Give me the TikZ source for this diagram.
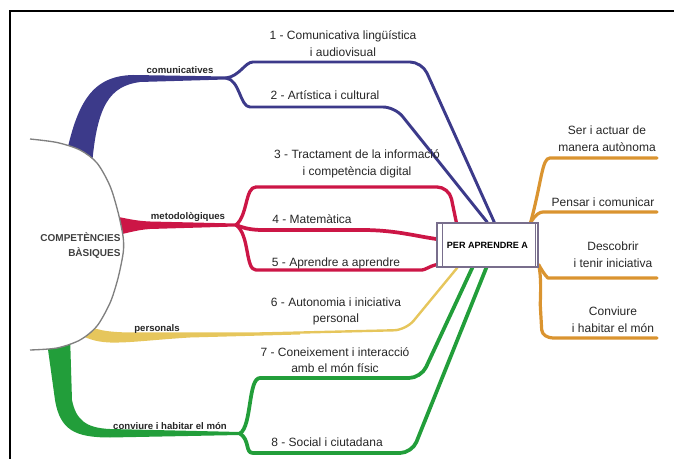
\documentclass[tikz,border=0pt]{standalone}
\usepackage{fontspec}
\setmainfont{Liberation Sans}
\usetikzlibrary{calc}

\definecolor{comblue}{RGB}{60,58,138}
\definecolor{metred}{RGB}{204,22,70}
\definecolor{peryellow}{RGB}{230,198,92}
\definecolor{convgreen}{RGB}{34,158,58}
\definecolor{aprorange}{RGB}{218,148,48}
\definecolor{boxedge}{RGB}{120,110,140}

\tikzset{every picture/.style={line width=0.75pt}}

\begin{document}
\begin{tikzpicture}[x=0.75pt,y=0.75pt,yscale=-1,xscale=1,
  lbl/.style={font=\fontsize{9}{12.5}\selectfont, align=center, inner sep=0pt, text=black!85},
  tag/.style={font=\fontsize{7.2}{8}\selectfont\bfseries, inner sep=0pt, text=black!85},
  twig/.style={line width=2.2pt, line cap=round, line join=round, rounded corners=9pt},
]
\useasboundingbox (0,0) rectangle (674,459);

%Straight Lines: frame
\draw[line width=1.5pt] (10,459) -- (10,11) -- (674,11);

% Split points and ends on the box
\coordinate (comSplit) at (226,78);
\coordinate (metSplit) at (236,225);
\coordinate (convSplit) at (240,433.5);

%Shape: thick branches
\fill[comblue] (64,165) .. controls (76,105) and (90,76) .. (133,75) -- (226,76.5) -- (226,79.5) -- (140,82) .. controls (110,86) and (97,105) .. (92,165) -- cycle;
\fill[metred] (108,215) .. controls (125,218) and (135,221) .. (150,221.5) -- (236,223.5) -- (236,226.5) -- (150,229) .. controls (135,230) and (125,234) .. (108,237) -- cycle;
\fill[peryellow] (80,322) .. controls (95,330) and (105,332) .. (130,332.5) -- (300,332.5) -- (300,334.5) -- (190,337.5) .. controls (150,340) and (130,343) .. (110,342.5) .. controls (95,342) and (85,338) .. (75,332) -- cycle;
\fill[convgreen] (46,335) -- (55,400) .. controls (60,430) and (75,437.5) .. (110,437.5) -- (240,435) -- (240,432) -- (110,429) .. controls (86,428) and (76,420) .. (72,400) -- (70,335) -- cycle;

%Shape: Circle
\fill[white] plot[smooth] coordinates {(30,139) (57,142.5) (80,150) (97,163) (110,186) (118,212) (123,236) (123.5,250) (121,265) (117,282) (110,303) (97,326) (80,340) (57,348) (30,350)} -- cycle;
\draw[gray, line width=1pt] plot[smooth] coordinates {(30,139) (57,142.5) (80,150) (97,163) (110,186) (118,212) (123,236) (123.5,250) (121,265) (117,282) (110,303) (97,326) (80,340) (57,348) (30,350)};

% Text Node
\node[font=\fontsize{7.5}{11.25}\selectfont\bfseries, align=right, text=black!75, anchor=east, inner sep=0pt] (core) at (121,245.5) {COMPETÈNCIES\\BÀSIQUES};

%Shape: Rectangle
\node[draw=boxedge, fill=white, line width=1pt, minimum width=75.75pt, minimum height=33pt, inner sep=0pt, font=\fontsize{6.8}{8}\selectfont\bfseries] (box) at (487.5,245) {PER APRENDRE A};

\coordinate (b1) at ($(box.north west)+(58,0)$);
\coordinate (b2) at ($(box.north west)+(51,0)$);
\coordinate (r3) at ($(box.north west)+(20,0)$);
\coordinate (r4) at ($(box.west)+(0,-6)$);
\coordinate (r5) at ($(box.south west)+(0,-3)$);
\coordinate (y6) at ($(box.south west)+(21,0)$);
\coordinate (g7) at ($(box.south west)+(36,0)$);
\coordinate (g8) at ($(box.south west)+(50,0)$);
\coordinate (oTop) at ($(box.north east)+(-8,0)$);
\coordinate (oBot) at ($(box.south east)+(0,-3)$);

%Curve Lines: comunicatives
\draw[twig, comblue] (comSplit) .. controls (240,76) and (245,62) .. (265,62) -- (422,62) -- (b1);
\draw[twig, comblue] (comSplit) .. controls (240,80) and (240,107) .. (262,107) -- (395,107) -- (b2);
%Curve Lines: metodologiques
\draw[twig, metred, line width=2.5pt] (metSplit) .. controls (248,215) and (245,187) .. (268,187) -- (449,187) -- (r3);
\draw[twig, metred, line width=2.8pt] (metSplit) .. controls (250,231) and (262,230) .. (285,230) -- (350,230) .. controls (395,230) and (415,236) .. (r4);
\draw[twig, metred, line width=2.5pt] (metSplit) .. controls (250,235) and (245,270) .. (268,270) -- (410,270) .. controls (425,270) and (430,266) .. (r5);
%Curve Lines: personals
\draw[twig, peryellow, line width=1.8pt] (260,333.5) -- (406,330) -- (y6);
%Curve Lines: conviure
\draw[twig, convgreen, line width=2.8pt] (convSplit) .. controls (252,426) and (248,378) .. (272,378) -- (421,378) -- (g7);
\draw[twig, convgreen, line width=2.8pt] (convSplit) .. controls (250,440) and (245,453) .. (265,453) -- (412,453) -- (g8);
%Curve Lines: per aprendre a
\draw[twig, aprorange, line width=2.4pt] (oTop) .. controls (542,180) and (542,158) .. (562,158) -- (657,158);
\draw[twig, aprorange, line width=2.4pt] (oTop) .. controls (536,214) and (540,212) .. (555,212) -- (657,212);
\draw[twig, aprorange, line width=2.4pt] (oBot) .. controls (545,276) and (548,278) .. (560,278) -- (657,278);
\draw[twig, aprorange, line width=2.4pt] (oBot) .. controls (542,280) and (540,300) .. (541,318) .. controls (542,335) and (548,338) .. (565,338) -- (657,338);

%Shape: box again on top, with side bars
\node[draw=boxedge, fill=white, line width=1pt, minimum width=75.75pt, minimum height=33pt, inner sep=0pt, font=\fontsize{6.8}{8}\selectfont\bfseries] (boxTop) at (box) {PER APRENDRE A};
\draw[boxedge, line width=1pt] ($(box.north west)+(6,0)$) -- ($(box.south west)+(6,0)$);
\draw[boxedge, line width=1pt] ($(box.north east)+(-3,0)$) -- ($(box.south east)+(-3,0)$);

% Text Node
\node[tag] (comTag) at (180,70) {comunicatives};
\node[tag] (metTag) at (188,217) {metodològiques};
\node[tag] (perTag) at (157,329) {personals};
\node[tag] (convTag) at (170,426) {conviure i habitar el món};

% Text Node
\node[lbl] (c1) at (343,43.5) {1 - Comunicativa lingüística\\i audiovisual};
\node[lbl] (c2) at (325,95) {2 - Artística i cultural};
\node[lbl] (c3) at (357,163.5) {3 - Tractament de la informació\\i competència digital};
\node[lbl] (c4) at (312,219) {4 - Matemàtica};
\node[lbl] (c5) at (336,263) {5 - Aprendre a aprendre};
\node[lbl] (c6) at (336,311.5) {6 - Autonomia i iniciativa\\personal};
\node[lbl] (c7) at (335,360) {7 - Coneixement i interacció\\amb el món físic};
\node[lbl] (c8) at (327,442) {8 - Social i ciutadana};

% Text Node
\node[lbl] (a1) at (607,138.5) {Ser i actuar de\\manera autònoma};
\node[lbl] (a2) at (603,202) {Pensar i comunicar};
\node[lbl] (a3) at (613,255) {Descobrir\\i tenir iniciativa};
\node[lbl] (a4) at (613,320) {Conviure\\i habitar el món};

\end{tikzpicture}
\end{document}
